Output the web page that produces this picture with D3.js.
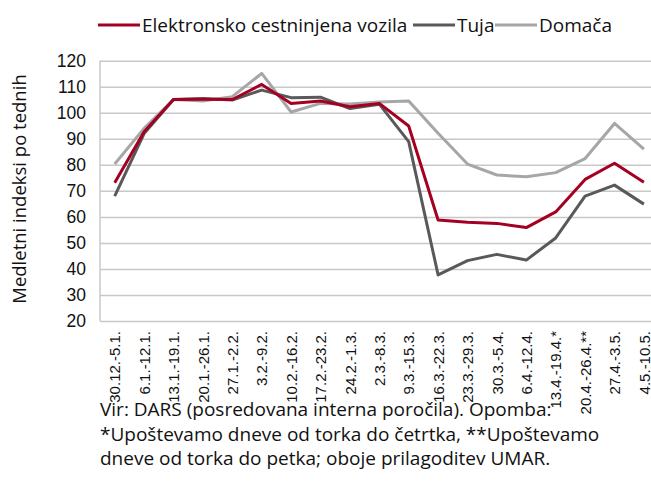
<!DOCTYPE html>
<html>

<head>
    <meta charset="utf-8">
    <style>
        body {
            margin: 0;
            background: #fff;
            font-family: 'Open Sans', 'DejaVu Sans', sans-serif;
        }

        svg {
            display: block;
        }

        .y .tick line {
            stroke: #c8c8c8;
            stroke-width: 1.5;
        }

        .y .domain,
        .x .domain {
            display: none;
        }

        .y .tick text {
            font-size: 17.5px;
            fill: #111;
        }

        .x .tick text {
            font-size: 15px;
            fill: #111;
        }

        .legend text {
            font-size: 19px;
            fill: #111;
        }

        .axis-label {
            font-size: 18.5px;
            fill: #111;
        }

        .source {
            font-size: 19px;
            fill: #111;
        }
    </style>
</head>

<body>
    <svg width="651" height="495"></svg>

    <script src="https://d3js.org/d3.v7.min.js"></script>
    <script>
        // weekly periods
        let weeks = [
            "30.12.-5.1.", "6.1.-12.1.", "13.1.-19.1.", "20.1.-26.1.", "27.1.-2.2.",
            "3.2.-9.2.", "10.2.-16.2.", "17.2.-23.2.", "24.2.-1.3.", "2.3.-8.3.",
            "9.3.-15.3.", "16.3.-22.3.", "23.3.-29.3.", "30.3.-5.4.", "6.4.-12.4.",
            "13.4.-19.4.*", "20.4.-26.4.**", "27.4.-3.5.", "4.5.-10.5."
        ]

        let elektronsko = [73.1, 92.7, 105.1, 105.2, 105.1, 110.9, 103.6, 104.5, 102.3, 103.6,
            94.9, 58.8, 57.9, 57.5, 55.9, 61.9, 74.4, 80.6, 73.3]
        let tuja = [68.0, 92.0, 105.1, 105.5, 104.9, 108.7, 105.8, 106.0, 101.6, 103.3,
            88.9, 37.7, 43.2, 45.6, 43.4, 51.9, 68.0, 72.2, 64.9]
        let domaca = [80.3, 94.0, 105.1, 104.5, 106.2, 115.1, 100.3, 103.6, 103.4, 104.1,
            104.5, 92.1, 80.3, 76.1, 75.4, 77.0, 82.4, 95.9, 86.0]

        let yTicks = [20, 30, 40, 50, 60, 70, 80, 90, 100, 110, 120]

        let seriesNames = ["Elektronsko cestninjena vozila", "Tuja", "Domača"]
        let seriesColors = ["#a50021", "#595959", "#a6a6a6"]

        let series = [
            { name: seriesNames[0], values: elektronsko, color: seriesColors[0] },
            { name: seriesNames[1], values: tuja, color: seriesColors[1] },
            { name: seriesNames[2], values: domaca, color: seriesColors[2] }
        ]

        let svg = d3.select("svg")

        let margin = { top: 60.7, left: 100, bottom: 321 }
        let band = 29.4

        let x = d3.scalePoint()
            .domain(weeks)
            .range([margin.left + band / 2, margin.left + band / 2 + band * (weeks.length - 1)])

        let y = d3.scaleLinear()
            .domain([20, 120])
            .range([margin.bottom, margin.top])

        // grid + y labels
        svg.append("g")
            .attr("class", "y axis")
            .attr("transform", `translate(${margin.left},0)`)
            .call(d3.axisLeft(y).tickValues(yTicks).tickSize(-560).tickPadding(14))
            .call(g => g.selectAll(".domain").remove())

        // left border of plot
        svg.append("line")
            .attr("x1", margin.left).attr("x2", margin.left)
            .attr("y1", y(120)).attr("y2", y(20))
            .attr("stroke", "#c8c8c8")
            .attr("stroke-width", 1.5)

        // x labels (rotated)
        svg.append("g")
            .attr("class", "x axis")
            .attr("transform", `translate(0,${margin.bottom})`)
            .call(d3.axisBottom(x).tickSize(0))
            .call(g => g.selectAll(".tick text")
                .attr("transform", "rotate(-90)")
                .attr("text-anchor", "end")
                .attr("x", -10)
                .attr("y", 0)
                .attr("dy", "0.35em"))

        let line = d3.line()
            .x((d, i) => x(weeks[i]))
            .y(d => y(d))

        svg.append("g")
            .selectAll("path")
            .data(series.slice().reverse())
            .join("path")
            .attr("fill", "none")
            .attr("stroke", d => d.color)
            .attr("stroke-width", 3)
            .attr("stroke-linejoin", "round")
            .attr("d", d => line(d.values))

        // legend
        let legendX = [98, 413, 495]
        let legend = svg.append("g").attr("class", "legend")
        series.forEach(function (s, i) {
            legend.append("line")
                .attr("x1", legendX[i]).attr("x2", legendX[i] + 42)
                .attr("y1", 25).attr("y2", 25)
                .attr("stroke", s.color)
                .attr("stroke-width", 3)
            legend.append("text")
                .attr("x", legendX[i] + 44)
                .attr("y", 25)
                .attr("dy", "0.35em")
                .text(s.name)
        })

        // y axis title
        svg.append("text")
            .attr("class", "axis-label")
            .attr("transform", "translate(20,189) rotate(-90)")
            .attr("text-anchor", "middle")
            .attr("dy", "0.35em")
            .text("Medletni indeksi po tednih")

        // source / notes
        let notes = [
            "Vir: DARS (posredovana interna poročila). Opomba:",
            "*Upoštevamo dneve od torka do četrtka, **Upoštevamo",
            "dneve od torka do petka; oboje prilagoditev UMAR."
        ]
        svg.append("g")
            .selectAll("text")
            .data(notes)
            .join("text")
            .attr("class", "source")
            .attr("x", 100)
            .attr("y", (d, i) => 416 + i * 24.5)
            .text(d => d)
    </script>
</body>

</html>
